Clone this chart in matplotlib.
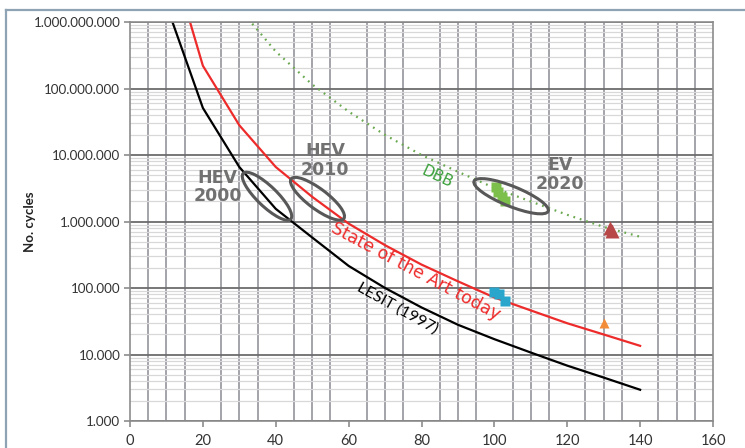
import numpy as np
import matplotlib
matplotlib.use('Agg')
import matplotlib.pyplot as plt
from matplotlib.ticker import FixedLocator, FuncFormatter
from matplotlib.patches import Ellipse
from matplotlib.transforms import IdentityTransform
from matplotlib.lines import Line2D

# Datos de las curvas (temperatura en x, ciclos en y)
x_curve = [10, 20, 30, 40, 50, 60, 70, 80, 90, 100, 110, 120, 130, 140]
lesit = [1.8e9, 5.1e7, 6.6e6, 1.55e6, 5.75e5, 2.15e5, 1.0e5, 5.1e4, 2.8e4,
         1.7e4, 1.07e4, 6.8e3, 4.5e3, 2.95e3]
state_art = [1.6e10, 2.2e8, 2.8e7, 6.6e6, 2.35e6, 9.3e5, 4.4e5, 2.25e5, 1.26e5,
             7.2e4, 4.6e4, 2.95e4, 2.0e4, 1.35e4]

x_dbb = [30, 40, 50, 60, 70, 80, 90, 100, 110, 120, 130, 140]
dbb = [1.6e9, 3.6e8, 1.15e8, 4.5e7, 2.0e7, 1.0e7, 5.6e6, 3.2e6, 2.0e6,
       1.26e6, 8.3e5, 5.9e5]

# Puntos medidos
green_x = [100.5, 101, 102, 103]
green_y = [3.3e6, 2.8e6, 2.3e6, 2.0e6]
blue_x = [99.8, 101.2, 103]
blue_y = [8.8e4, 8.0e4, 6.3e4]
darkred_x = [131.6, 132.4]
darkred_y = [8.0e5, 7.2e5]
orange_x = [130]
orange_y = [3.0e4]

y_ticks = [1e3, 1e4, 1e5, 1e6, 1e7, 1e8, 1e9]
x_ticks = [0, 20, 40, 60, 80, 100, 120, 140, 160]

fig = plt.figure(figsize=(7.45, 4.48), dpi=100)
ax = fig.add_axes([130 / 745, 1 - 421 / 448, 583 / 745, 399 / 448])

ax.set_yscale('log')
ax.set_xlim(0, 160)
ax.set_ylim(1e3, 1e9)

# Rejilla
ax.xaxis.set_major_locator(FixedLocator(x_ticks))
ax.xaxis.set_minor_locator(FixedLocator(np.arange(0, 161, 5)))
ax.yaxis.set_major_locator(FixedLocator(y_ticks))
minors = [m * 10 ** e for e in range(3, 9) for m in range(2, 10)]
ax.yaxis.set_minor_locator(FixedLocator(minors))
ax.grid(True, which='minor', axis='x', color='#9c9ca4', lw=1.3)
ax.grid(True, which='minor', axis='y', color='#d8d8d8', lw=0.9)
ax.grid(True, which='major', axis='y', color='#6c6c6c', lw=1.3)
ax.set_axisbelow(True)
for s in ax.spines.values():
    s.set_color('#8c8c8c')
    s.set_linewidth(1.2)

ax.yaxis.set_major_formatter(FuncFormatter(lambda v, p: f"{int(round(v)):,}".replace(',', '.')))
ax.tick_params(which='minor', length=0)
ax.tick_params(which='major', length=4, color='#8c8c8c', width=1.2, labelcolor='#333333')
ax.tick_params(axis='y', labelsize=9.6, pad=3)
ax.tick_params(axis='x', labelsize=10.5, pad=5)
for lab in ax.get_xticklabels() + ax.get_yticklabels():
    lab.set_family('Lato')

ax.set_ylabel('No. cycles', fontsize=9.5, fontweight='bold', family='Lato', color='#222222')
ax.yaxis.set_label_coords(-94 / 583, 0.5)

# Curvas
ax.plot(x_curve, lesit, color='black', lw=1.6)
ax.plot(x_curve, state_art, color='#ee2b2b', lw=1.6)
ax.plot(x_dbb, dbb, color='#6aa84f', lw=1.6, linestyle=(0, (0.8, 2.2)))

# Marcadores
ax.plot(green_x, green_y, 's', color='#7cbf4a', ms=7.5, mec='none')
ax.plot(blue_x, blue_y, 's', color='#2aa6cc', ms=7.5, mec='none')
ax.plot(darkred_x, darkred_y, '^', color='#b84848', ms=10, mec='none')
ax.plot(orange_x, orange_y, '^', color='#f28c38', ms=7.5, mec='none')

# Elipses (centro en datos, tamaño en pixeles)
ellipses = [((37.6, 2.4e6), 66, 20, -44),
            ((51.45, 2.2e6), 66, 20, -37),
            ((104.6, 2.4e6), 80, 20, -22)]
for (cx, cy), w, h, ang in ellipses:
    c = ax.transData.transform((cx, cy))
    e = Ellipse(c, w, h, angle=ang, fill=False, edgecolor='#585858', lw=2.2,
                transform=IdentityTransform(), zorder=5)
    ax.add_artist(e)

# Textos
lab_kw = dict(fontsize=12.5, fontweight='bold', color='#717171', ha='center',
              va='center', linespacing=1.05, family='DejaVu Sans')
ax.text(24.1, 3.3e6, 'HEV\n2000', **lab_kw)
ax.text(53.5, 8.3e6, 'HEV\n2010', **lab_kw)
ax.text(118, 5.1e6, 'EV\n2020', **lab_kw)
ax.text(84.2, 4.7e6, 'DBB', fontsize=11, color='#3aa03a', rotation=-25,
        ha='center', va='center', rotation_mode='anchor')
ax.text(78.5, 1.8e5, 'State of the Art today', fontsize=12.5, color='#ee2b2b',
        rotation=-28, ha='center', va='center', rotation_mode='anchor')
ax.text(73.3, 5e4, 'LESIT (1997)', fontsize=11.5, color='black', family='Lato',
        rotation=-29, ha='center', va='center', rotation_mode='anchor')

# Marco de la figura
frame_col = '#8ea3b3'
fig.add_artist(Line2D([6 / 745, 1], [1 - 10 / 448, 1 - 10 / 448], color=frame_col, lw=1.6))
fig.add_artist(Line2D([6 / 745, 6 / 745], [0, 1 - 10 / 448], color=frame_col, lw=1.6))

fig.savefig('out.png', dpi=100)
